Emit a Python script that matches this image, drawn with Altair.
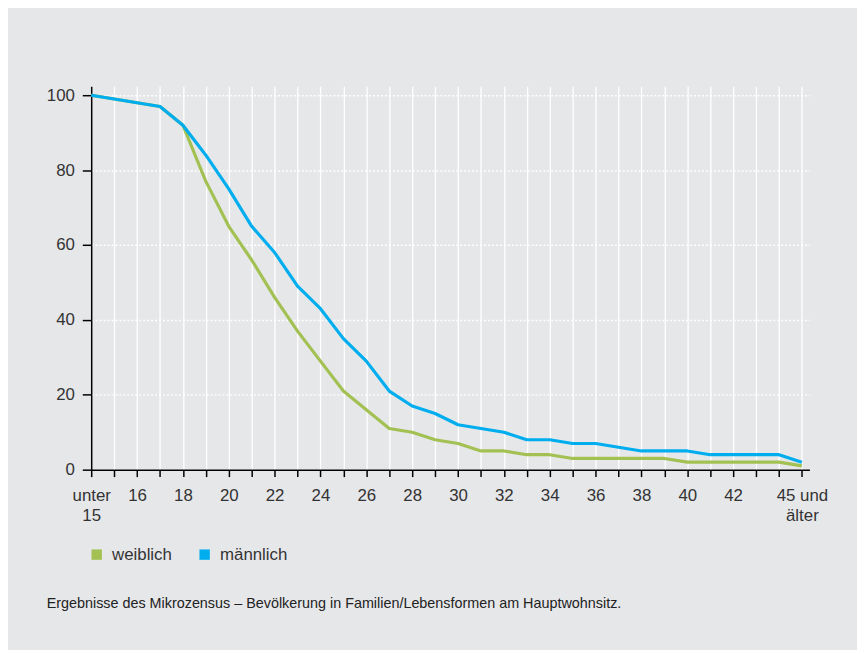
import json
import altair as alt
import pandas as pd

# --- data ---
ages = ["unter 15"] + [str(a) for a in range(15, 45)] + ["45 und älter"]
weiblich = [100, 99, 98, 97, 92, 77, 65, 56, 46, 37, 29, 21, 16, 11, 10, 8,
            7, 5, 5, 4, 4, 3, 3, 3, 3, 3, 2, 2, 2, 2, 2, 1]
maennlich = [100, 99, 98, 97, 92, 84, 75, 65, 58, 49, 43, 35, 29, 21, 17, 15,
             12, 11, 10, 8, 8, 7, 7, 6, 5, 5, 5, 4, 4, 4, 4, 2]
tick_labels = ["unter|15", "", "16", "", "18", "", "20", "", "22", "", "24", "",
               "26", "", "28", "", "30", "", "32", "", "34", "", "36", "", "38",
               "", "40", "", "42", "", "", "45 und|älter"]
series = ["weiblich", "männlich"]
colors = ["#a2c152", "#00aeef"]
y_ticks = [0, 20, 40, 60, 80, 100]
footnote = "Ergebnisse des Mikrozensus – Bevölkerung in Familien/Lebensformen am Hauptwohnsitz."

rows = []
for name, vals in zip(series, [weiblich, maennlich]):
    for i, (a, v) in enumerate(zip(ages, vals)):
        rows.append({"idx": i, "alter": a, "wert": v, "serie": name})
df = pd.DataFrame(rows)

FONT = "Liberation Sans"
TXT = "#333333"
FS = 17

label_expr = "split(" + json.dumps(tick_labels, ensure_ascii=False) + "[datum.value], '|')"

color_scale = alt.Scale(domain=series, range=colors)

lines = alt.Chart(df).mark_line(strokeWidth=3.2, strokeJoin="round").encode(
    x=alt.X("idx:Q",
            scale=alt.Scale(domain=[0, 31.33], nice=False, zero=False),
            axis=alt.Axis(values=list(range(len(ages))), labelExpr=label_expr,
                          title=None, grid=True, gridColor="#ffffff", gridWidth=1.3,
                          gridOpacity=1, domainColor="#000000", domainWidth=1.5,
                          tickColor="#000000", tickWidth=1.5, tickSize=7,
                          labelFontSize=FS, labelColor=TXT, labelFont=FONT,
                          labelPadding=11, labelLineHeight=20, labelFlush=False,
                          labelOverlap=False, labelBaseline="top")),
    y=alt.Y("wert:Q",
            scale=alt.Scale(domain=[0, 102.4], nice=False),
            axis=alt.Axis(values=y_ticks, title=None, grid=True,
                          gridColor="#ffffff", gridDash=[2, 2], gridWidth=1.5,
                          gridOpacity=1, domainColor="#000000", domainWidth=1.5,
                          tickColor="#000000", tickWidth=1.5, tickSize=9,
                          labelFontSize=FS, labelColor=TXT, labelFont=FONT,
                          labelPadding=8)),
    color=alt.Color("serie:N", scale=color_scale, sort=series, legend=None),
    detail="serie:N",
)

keys = alt.Chart(pd.DataFrame({"serie": series})).mark_square(
    size=0, opacity=0
).encode(
    x=alt.value(0), y=alt.value(0),
    color=alt.Color("serie:N", scale=color_scale, sort=series,
                    legend=alt.Legend(title=None, orient="none", legendX=-3,
                                      legendY=464, direction="horizontal",
                                      symbolType="square", symbolSize=110,
                                      symbolStrokeWidth=0, symbolOpacity=1,
                                      labelFontSize=FS, labelColor=TXT,
                                      labelFont=FONT, labelOffset=7,
                                      columnPadding=24)),
)

note = alt.Chart(pd.DataFrame({"t": [footnote]})).mark_text(
    align="left", baseline="middle", fontSize=14.5, font=FONT, color="#222222"
).encode(text="t:N", x=alt.value(-45), y=alt.value(523))

chart = alt.layer(lines, keys, note).resolve_legend(color="independent").properties(
    width=725, height=387,
    autosize=alt.AutoSizeParams(type="none"),
    padding={"left": 84, "top": 76, "right": 48, "bottom": 179},
    background="#e6e7e9",
).configure_view(stroke=None, fill="#e6e7e9")

chart.save("out.html", embed_options={"renderer": "svg", "actions": False})
